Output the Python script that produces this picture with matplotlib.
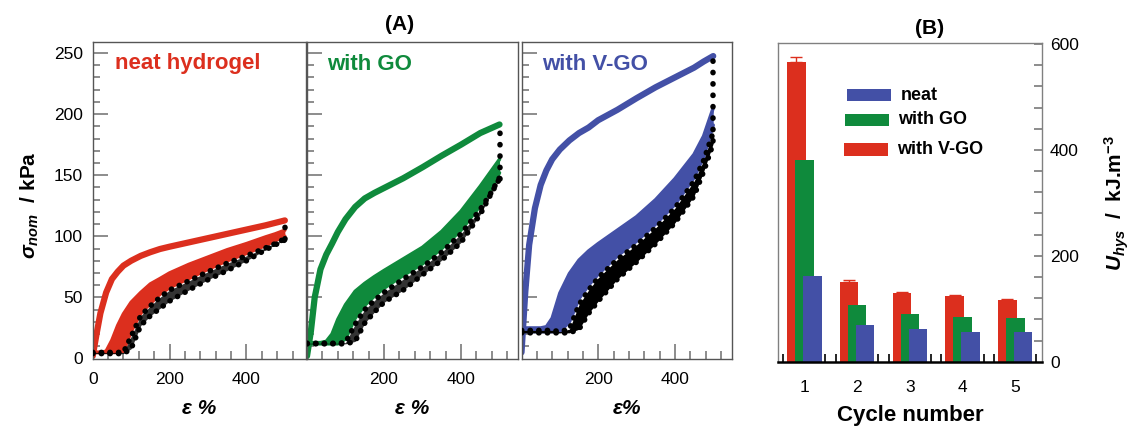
import matplotlib
matplotlib.use('Agg')
import matplotlib.pyplot as plt
from matplotlib.patches import Rectangle
from matplotlib.collections import LineCollection
from matplotlib.ticker import MultipleLocator, FixedLocator
import numpy as np

plt.rcParams['font.family'] = ['Liberation Sans', 'DejaVu Sans']
plt.rcParams['mathtext.fontset'] = 'custom'
plt.rcParams['mathtext.rm'] = 'Liberation Sans:bold'
plt.rcParams['mathtext.it'] = 'Liberation Sans:italic:bold'
plt.rcParams['mathtext.bf'] = 'Liberation Sans:bold'

# ---------------- data ----------------
eps = [0, 10, 20, 35, 50, 65, 80, 100, 125, 150, 175, 200, 250, 300, 350, 400, 450, 475, 500]

# (A) neat hydrogel
neat_first   = [2, 20, 37, 54, 65, 71, 76, 80, 84, 87, 89.6, 91.5, 95, 98.5, 102, 105.5, 109, 111, 113]
neat_band_hi = [5, 5, 5, 6, 15, 27, 36.5, 46, 54, 61, 65.4, 70, 77, 83, 89, 94, 99.5, 102, 105]
neat_band_lo = [5, 5, 5, 5, 5, 5, 6, 22, 37, 45, 52.6, 58, 65.5, 73, 80, 86, 92.5, 96.5, 100]
neat_blk_hi  = [5, 5, 5, 5, 5, 5, 5, 18, 35, 43, 50, 56, 63.5, 71, 78, 84, 90.5, 94, 98]
neat_blk_lo  = [4, 4, 4, 4, 4, 4, 4, 8, 27, 35, 41, 47, 56, 64.5, 72, 80, 89, 93, 97]
neat_end     = [98, 113]

# (A) with GO
go_first   = [2, 22, 50, 73, 85, 94, 103.5, 114, 124, 131, 135.5, 139.5, 147.5, 156.5, 166, 175, 184.5, 188, 191.5]
go_band_hi = [13, 13, 13, 13, 14, 20, 32, 44, 55, 61.5, 67, 72, 81.5, 91, 104, 120.5, 141, 152, 163]
go_band_lo = [12, 12, 12, 12, 12, 12, 12, 16, 33, 43.5, 51, 57.5, 68, 77.5, 90, 105, 125, 137, 152]
go_blk_hi  = [12.5, 12.5, 12.5, 12.5, 12.5, 12.5, 12.5, 13, 28, 40, 47.5, 54, 65, 75, 87, 102, 122, 134, 148]
go_blk_lo  = [12, 12, 12, 12, 12, 12, 12, 12, 14, 29, 38, 46, 56, 68.5, 80.5, 95, 118, 133, 147]
go_end     = [147, 191]

# (A) with V-GO
vgo_first   = [5, 55, 93, 123, 142, 154, 163, 171, 178.5, 184.5, 189, 195, 203.5, 213, 222, 230, 238, 243, 247.5]
vgo_band_hi = [25, 25, 25, 25, 25, 26, 33, 53.5, 69.5, 80.5, 88, 94, 105, 116, 130, 147, 167, 182, 205]
vgo_band_lo = [22, 22, 22, 22, 22, 22, 22, 22, 30, 49, 60, 69, 84, 96, 110, 126, 148, 165, 191]
vgo_blk_hi  = [23, 23, 23, 23, 23, 23, 23, 22, 24, 44, 56, 66, 81, 93, 107, 123, 145, 162, 185]
vgo_blk_lo  = [21, 21, 21, 21, 21, 21, 21, 21, 21, 24, 37, 47, 65, 79, 94, 111, 133, 153, 176]
vgo_end     = [178, 247]

# (B) hysteresis energy
cycles    = [1, 2, 3, 4, 5]
neat_bars = [162, 69, 62, 57, 56]
go_bars   = [381, 107, 91, 84, 83]
vgo_bars  = [567, 151, 129, 124, 117]
vgo_err   = [8, 3, 2, 2, 2]
legend_labels = ['neat', 'with GO', 'with V-GO']

RED = '#dc2f1e'
GREEN = '#0f8a3c'
BLUE = '#4350a6'
GRAY = '#6e6e6e'

W, H = 1131, 428
fig = plt.figure(figsize=(W / 100, H / 100), dpi=100)


def fx(x):
    return x / W


def fy(y):
    return 1 - y / H


def axes_px(l, t, r, b):
    ax = fig.add_axes([fx(l), fy(b), (r - l) / W, (b - t) / H])
    ax._px = (r - l, b - t)
    return ax


def inward_ticks(ax, side, locs, length_px, color, lw):
    """Draw inward tick marks as line segments at the axis' own tick locations."""
    wpx, hpx = ax._px
    segs = []
    if side == 'bottom':
        lo, hi = ax.get_xlim()
        f = length_px / hpx
        segs = [[(v, 0), (v, f)] for v in locs if lo < v < hi]
        tr = ax.get_xaxis_transform()
    elif side == 'left':
        lo, hi = ax.get_ylim()
        f = length_px / wpx
        segs = [[(0, v), (f, v)] for v in locs if lo < v < hi]
        tr = ax.get_yaxis_transform()
    else:  # right
        lo, hi = ax.get_ylim()
        f = length_px / wpx
        segs = [[(1, v), (1 - f, v)] for v in locs if lo < v < hi]
        tr = ax.get_yaxis_transform()
    ax.add_collection(LineCollection(segs, colors=color, linewidths=lw, transform=tr,
                                     zorder=1.5, clip_on=False))


panels = [
    dict(l=92.7, r=306.0, xmax=555, c=RED, first=neat_first, bhi=neat_band_hi, blo=neat_band_lo,
         khi=neat_blk_hi, klo=neat_blk_lo, end=neat_end, text='neat hydrogel', tx=115,
         xt=[0, 200, 400], ylab=True, xlab='ε %', kalpha=0.8),
    dict(l=307.0, r=518.0, xmax=548, c=GREEN, first=go_first, bhi=go_band_hi, blo=go_band_lo,
         khi=go_blk_hi, klo=go_blk_lo, end=go_end, text='with GO', tx=327,
         xt=[200, 400], ylab=False, xlab='ε %', kalpha=0.8),
    dict(l=521.5, r=732.0, xmax=549, c=BLUE, first=vgo_first, bhi=vgo_band_hi, blo=vgo_band_lo,
         khi=vgo_blk_hi, klo=vgo_blk_lo, end=vgo_end, text='with V-GO', tx=542,
         xt=[200, 400], ylab=False, xlab='ε%', kalpha=1.0),
]

dot_style = dict(color='black', linestyle=(0, (0.05, 1.5)), dash_capstyle='round', lw=4.0)

for p in panels:
    ax = axes_px(p['l'], 42.0, p['r'], 358.5)
    ax.set_xlim(0, p['xmax'])
    ax.set_ylim(0, 259)
    c = p['c']
    ax.fill_between(eps, p['blo'], p['bhi'], color=c, lw=0, zorder=2)
    ax.plot(eps, p['bhi'], color=c, lw=2.5, zorder=2, solid_capstyle='round', solid_joinstyle='round')
    ax.plot(eps, p['blo'], color=c, lw=2.5, zorder=2, solid_capstyle='round', solid_joinstyle='round')
    ax.plot(eps, p['first'], color=c, lw=4.5, zorder=2.5, solid_capstyle='round', solid_joinstyle='round')
    ax.fill_between(eps, p['klo'], p['khi'], color='black', alpha=p['kalpha'], lw=0, zorder=3)
    ax.plot(eps, p['khi'], zorder=3.5, **dot_style)
    ax.plot(eps, p['klo'], zorder=3.5, **dot_style)
    ax.plot([eps[-1], eps[-1]], p['end'], zorder=3.5,
            color='black', linestyle=(0, (0.05, 2.0)), dash_capstyle='round', lw=4.0)

    fig.text(fx(p['tx']), fy(64), p['text'], color=c, fontsize=16, fontweight='bold',
             ha='left', va='center')

    ax.xaxis.set_major_locator(FixedLocator(p['xt']))
    ax.xaxis.set_minor_locator(MultipleLocator(40))
    ax.yaxis.set_major_locator(MultipleLocator(50))
    ax.yaxis.set_minor_locator(MultipleLocator(10))
    ax.tick_params(axis='both', which='both', direction='in', length=0, top=False, right=False,
                   labelsize=12.5)
    ax.tick_params(axis='x', which='major', pad=10)
    ax.tick_params(axis='y', which='major', pad=7)
    if not p['ylab']:
        ax.tick_params(labelleft=False)
    inward_ticks(ax, 'bottom', ax.xaxis.get_majorticklocs(), 15, GRAY, 1.1)
    inward_ticks(ax, 'bottom', ax.xaxis.get_minorticklocs(), 7.5, GRAY, 1.1)
    inward_ticks(ax, 'left', ax.yaxis.get_majorticklocs(), 15, GRAY, 1.1)
    inward_ticks(ax, 'left', ax.yaxis.get_minorticklocs(), 7, GRAY, 1.1)
    for s in ax.spines.values():
        s.set_color('#555555')
        s.set_linewidth(1.0)
    fig.text(fx((p['l'] + p['r']) / 2), fy(408), p['xlab'], fontsize=15, fontweight='bold',
             fontstyle='italic', ha='center', va='center')

fig.text(fx(30), fy(205), r'$\sigma_{nom}$  / kPa', rotation=90, fontsize=15,
         fontweight='bold', ha='center', va='center')
fig.text(fx(400), fy(24), '(A)', fontsize=15, fontweight='bold', ha='center', va='center')

# ---------------- panel B ----------------
axb = axes_px(778, 43, 1041.7, 361.7)
x = np.array(cycles, dtype=float)
axb.errorbar(x - 0.15, vgo_bars, yerr=[[0] * 5, vgo_err], fmt='none', ecolor=RED,
             elinewidth=1, capsize=4, capthick=1, zorder=1.5)
axb.bar(x - 0.15, vgo_bars, width=0.35, color=RED, zorder=2)
axb.bar(x, go_bars, width=0.35, color=GREEN, zorder=2.1)
axb.bar(x + 0.15, neat_bars, width=0.35, color=BLUE, zorder=2.2)
axb.set_xlim(0.5, 5.5)
axb.set_ylim(0, 602)
axb.yaxis.tick_right()
axb.yaxis.set_major_locator(MultipleLocator(200))
axb.yaxis.set_minor_locator(MultipleLocator(40))
axb.tick_params(axis='y', which='both', length=0, left=False, right=True,
                labelleft=False, labelright=True, labelsize=12.5, pad=6)
axb.xaxis.set_major_locator(FixedLocator(cycles))
axb.xaxis.set_minor_locator(FixedLocator([c + d for c in cycles for d in (-0.4, 0.4)]))
axb.tick_params(axis='x', which='both', length=0, labelsize=12.5, pad=13)
inward_ticks(axb, 'right', axb.yaxis.get_majorticklocs(), 8, GRAY, 1.1)
inward_ticks(axb, 'right', axb.yaxis.get_minorticklocs(), 8, GRAY, 1.1)
inward_ticks(axb, 'bottom', axb.xaxis.get_minorticklocs(), 8, 'black', 1.2)
for k, s in axb.spines.items():
    s.set_color('#808080')
    s.set_linewidth(1.0)
axb.spines['bottom'].set_color('black')
axb.spines['bottom'].set_linewidth(1.8)

leg = [(BLUE, 847.3, 890.7, 89, 101, 900.7, 95.5),
       (GREEN, 844.7, 888.7, 113.7, 126, 898.3, 120),
       (RED, 844.0, 888.3, 142.7, 155.7, 897.3, 149)]
for (col, x0, x1, y0, y1, tx, ty), lab in zip(leg, legend_labels):
    fig.add_artist(Rectangle((fx(x0), fy(y1)), (x1 - x0) / W, (y1 - y0) / H,
                             transform=fig.transFigure, color=col, lw=0))
    fig.text(fx(tx), fy(ty), lab, fontsize=13, fontweight='bold', ha='left', va='center')

fig.text(fx(930), fy(28), '(B)', fontsize=15, fontweight='bold', ha='center', va='center')
fig.text(fx(910), fy(416), 'Cycle number', fontsize=16, fontweight='bold', ha='center', va='center')
fig.text(fx(1117), fy(203), r'$U_{hys}$  /  kJ.m$^{-3}$', rotation=90, fontsize=15,
         fontweight='bold', ha='center', va='center')

fig.savefig('out.png', dpi=100)
